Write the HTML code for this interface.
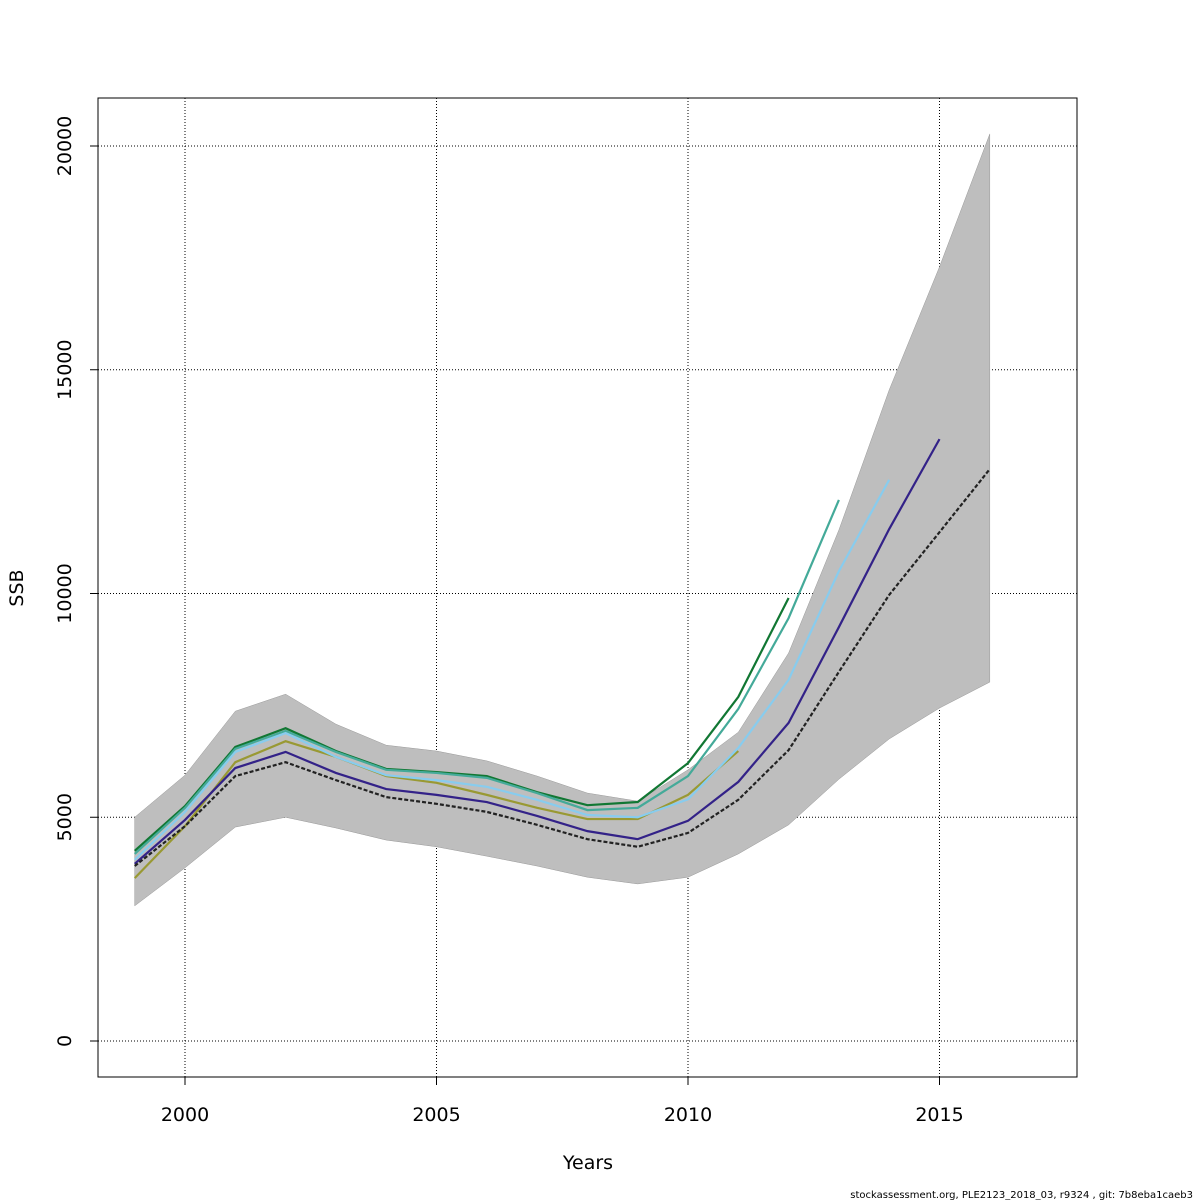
<!DOCTYPE html>
<html><head><meta charset="utf-8"><style>body{margin:0;background:#fff}svg{display:block;font-family:"DejaVu Sans","Liberation Sans",sans-serif}</style></head>
<body>
<svg id="chart" width="1200" height="1200" xmlns="http://www.w3.org/2000/svg">
<rect width="1200" height="1200" fill="#fff"/>
<g id="grid"></g>
<g id="series"></g>
<rect x="98" y="98" width="979" height="979" fill="none" stroke="#000" stroke-width="1"/>
<g id="axes"></g>
<text x="588" y="1169" font-size="19" text-anchor="middle">Years</text>
<text transform="translate(23,588) rotate(-90)" font-size="19" text-anchor="middle">SSB</text>
<text x="1193" y="1198" font-size="10" text-anchor="end">stockassessment.org, PLE2123_2018_03, r9324 , git: 7b8eba1caeb3</text>
</svg>
<script>
const years=[1999,2000,2001,2002,2003,2004,2005,2006,2007,2008,2009,2010,2011,2012,2013,2014,2015,2016];
const upper=[5000,5940,7370,7750,7080,6610,6480,6260,5920,5540,5360,6060,6900,8670,11420,14550,17300,20270];
const lower=[3020,3870,4780,5000,4760,4490,4340,4130,3910,3660,3510,3660,4180,4830,5850,6750,7440,8020];
const ssbBase=[3910,4800,5920,6230,5830,5450,5300,5120,4830,4510,4340,4650,5390,6500,8250,9970,11370,12780];
const peel1=[3960,4940,6100,6460,5990,5630,5500,5340,5030,4690,4510,4920,5790,7110,9250,11440,13450];
const peel2=[4050,5120,6460,6880,6350,5940,5830,5680,5390,5050,5000,5400,6550,8070,10500,12540];
const peel3=[4180,5210,6530,6930,6460,6060,5990,5880,5540,5160,5210,5920,7420,9450,12090];
const peel4=[4250,5250,6570,6990,6480,6080,6010,5920,5560,5270,5340,6210,7690,9900];
const peel5=[3640,4800,6230,6700,6350,5920,5770,5500,5210,4960,4960,5500,6480];
const xTicks=[2000,2005,2010,2015];
const yTicks=[0,5000,10000,15000,20000];
const X=y=>185+(y-2000)*50.3;
const Y=v=>1041-v*0.04475;
const NS="http://www.w3.org/2000/svg";
function mk(t,a,p){const e=document.createElementNS(NS,t);for(const k in a)e.setAttribute(k,a[k]);p.appendChild(e);return e;}
const grid=document.getElementById('grid'),ser=document.getElementById('series'),axes=document.getElementById('axes');
xTicks.forEach(t=>{
 const l=mk('line',{x1:X(t),x2:X(t),y1:98,y2:1077,stroke:'#000','stroke-dasharray':'1,2','stroke-width':1},grid);
 
 
 const k=mk('line',{x1:X(t),x2:X(t),y1:1077,y2:1085,stroke:'#000'},axes);
 
 
 const tx=mk('text',{x:X(t),y:1121,'font-size':19,'text-anchor':'middle'},axes);tx.textContent=t;
 
 
});
yTicks.forEach(t=>{
 const l=mk('line',{x1:98,x2:1077,y1:Y(t),y2:Y(t),stroke:'#000','stroke-dasharray':'1,2','stroke-width':1},grid);
 
 
 const k=mk('line',{x1:90,x2:98,y1:Y(t),y2:Y(t),stroke:'#000'},axes);
 
 
 const tx=mk('text',{transform:`translate(71,${Y(t)}) rotate(-90)`,'font-size':19,'text-anchor':'middle'},axes);tx.textContent=t;
 
 
});
let d=upper.map((v,i)=>(i?'L':'M')+X(years[i])+','+Y(v)).join('');
for(let i=lower.length-1;i>=0;i--)d+='L'+X(years[i])+','+Y(lower[i]);
const band=mk('path',{d:d+'Z',fill:'#bebebe',stroke:'#999','stroke-width':0.5},ser);


function line(arr,col,name,dash){
 const p=mk('path',{d:arr.map((v,i)=>(i?'L':'M')+X(years[i])+','+Y(v)).join(''),fill:'none',stroke:col,'stroke-width':2.2},ser);
 if(dash)p.setAttribute('stroke-dasharray',dash);
 
 
}
line(peel5,'#999933','peel-2011-line');
line(peel4,'#117733','peel-2012-line');
line(peel3,'#44aa99','peel-2013-line');
line(peel2,'#88ccee','peel-2014-line');
line(peel1,'#332288','peel-2015-line');
line(ssbBase,'#222','ssb-estimate-line','4,2');
</script>
</body></html>
